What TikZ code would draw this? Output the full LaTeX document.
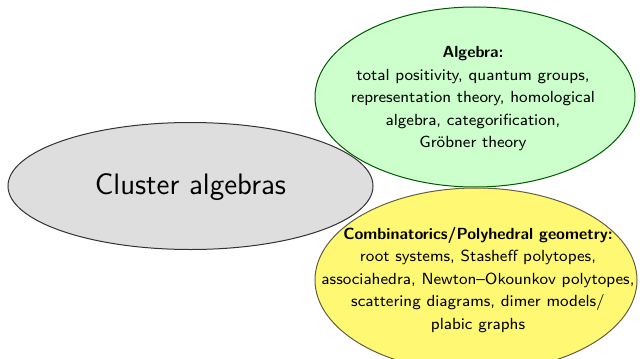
\documentclass[tikz,border=0pt]{standalone}
\usetikzlibrary{shapes.geometric}
\begin{document}
\begin{tikzpicture}[x=0.5pt,y=-0.5pt,
  blob/.style={ellipse,inner sep=0pt,line width=0.5pt},
  smalltext/.style={font=\sffamily\fontsize{8.05}{11.25}\selectfont,align=center,inner sep=0pt},
  bigtext/.style={font=\sffamily\fontsize{14.8}{17}\selectfont,inner sep=0pt}]
\useasboundingbox (0,0) rectangle (640,358);
\begin{scope}
\clip (0,0) rectangle (640,358);
\node[blob,draw=green!35!black,fill=green!20,minimum width=160pt,minimum height=90pt] (alg) at (475,97) {};
\node[blob,draw=yellow!30!black,fill=yellow!55,minimum width=161pt,minimum height=92pt] (comb) at (476,280) {};
\node[blob,draw=black!80,fill=black!13,minimum width=182.5pt,minimum height=63.5pt] (clu) at (190.5,186) {};
\end{scope}
\node[bigtext] (clut) at (190.5,187) {Cluster algebras};
\node[smalltext] (algt) at (473,99) {\textbf{Algebra:}\\total positivity, quantum groups,\\representation theory, homological\\algebra, categorification,\\Gr\"obner theory};
\node[smalltext] (combt) at (478,280) {\textbf{Combinatorics/Polyhedral geometry:}\\root systems, Stasheff polytopes,\\associahedra, Newton--Okounkov polytopes,\\scattering diagrams, dimer models/\\plabic graphs};
\end{tikzpicture}
\end{document}
